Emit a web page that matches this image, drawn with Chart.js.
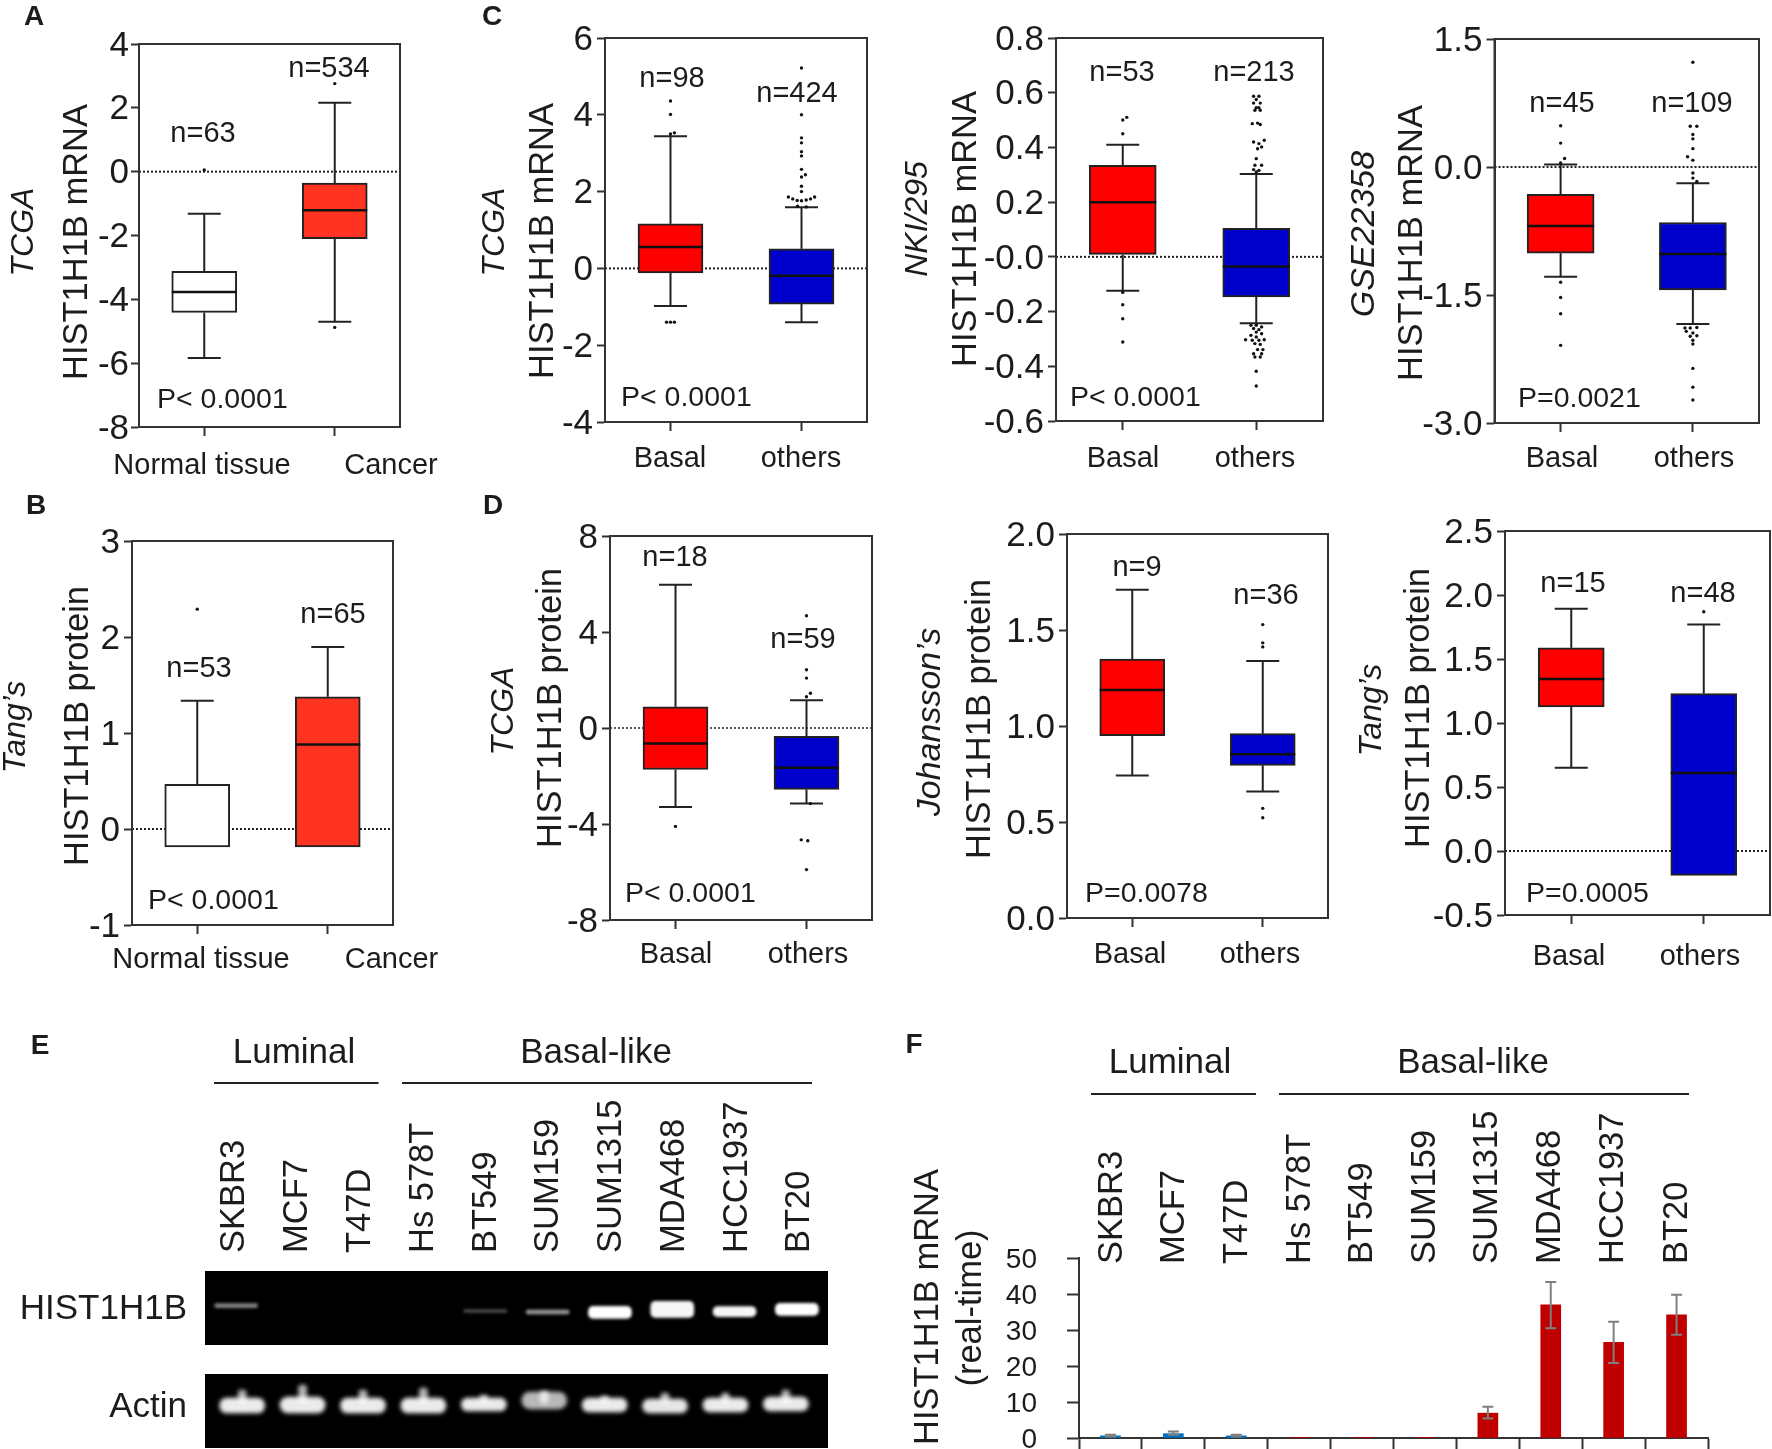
<!DOCTYPE html>
<html><head><meta charset="utf-8">
<style>html,body{margin:0;padding:0;background:#fff;overflow:hidden;width:1772px;height:1449px}
canvas{position:absolute;left:0;top:0}</style>
<script src="https://cdn.jsdelivr.net/npm/chart.js@4"></script>
</head><body>
<script>
// ---- values. Box stats: [low whisker, q1, median, q3, high whisker]
// Outliers: [x jitter, value]
const A_yTicks=[4,2,0,-2,-4,-6,-8];
const A_yLabels=['4','2','0','-2','-4','-6','-8'];
const A_normal=[-5.84,-4.41,-3.77,-3.12,-1.32];
const A_cancer=[-4.70,-2.10,-1.21,-0.36,2.16];
const A_normalOut=[[0,0.05]];
const A_cancerOut=[[0,2.76],[0,-4.88]];

const B_yTicks=[3,2,1,0,-1];
const B_yLabels=['3','2','1','0','-1'];
const B_normal=[-0.187,-0.187,null,0.466,1.335];
const B_cancer=[-0.187,-0.187,0.88,1.377,1.895];
const B_normalOut=[[0,2.29]];
const B_cancerOut=[];

const C1_yTicks=[6,4,2,0,-2,-4];
const C1_yLabels=['6','4','2','0','-2','-4'];
const C1_basal=[-0.98,-0.12,0.56,1.16,3.44];
const C1_others=[-1.40,-0.93,-0.19,0.51,1.59];
const C1_basalOut=[[0,4.36],[0,4.01],[0.03,3.53],[0,3.5],[-0.03,-1.4],[0,-1.4],[0.03,-1.4]];
const C1_othersOut=[[0,5.22],[0,4.0],[0,3.4],[0,3.27],[0,3.04],[0,2.93],[0,2.58],[0.03,2.44],[0,2.38],[0,2.14],[0,2.0],[-0.1,1.86],[-0.067,1.81],[-0.033,1.77],[0,1.76],[0.036,1.78],[0.069,1.81],[0.1,1.86],[-0.03,1.62],[0.036,1.6]];

const C2_yTicks=[0.8,0.6,0.4,0.2,0,-0.2,-0.4,-0.6];
const C2_yLabels=['0.8','0.6','0.4','0.2','-0.0','-0.2','-0.4','-0.6'];
const C2_basal=[-0.124,0.009,0.20,0.335,0.41];
const C2_others=[-0.243,-0.146,-0.035,0.104,0.303];
const C2_basalOut=[[0.03,0.51],[0,0.5],[0,0.45],[0,-0.13],[0,-0.175],[0,-0.226],[0,-0.311]];
const C2_othersOut=[[-0.02,0.587],[0.02,0.587],[0,0.575],[-0.02,0.562],[0.03,0.562],[0,0.545],[0.02,0.545],[-0.01,0.536],[0.03,0.536],[-0.03,0.487],[0.01,0.489],[0.03,0.484],[0.06,0.426],[-0.02,0.42],[0.02,0.414],[0.01,0.395],[0.04,0.402],[0,0.359],[-0.01,0.335],[0.04,0.335],[-0.02,0.319],[0.02,0.316],[0,0.31],[-0.04,-0.25],[0,-0.25],[0.04,-0.256],[-0.02,-0.262],[0.02,-0.266],[0,-0.275],[0.04,-0.281],[-0.04,-0.287],[0,-0.293],[-0.08,-0.303],[-0.03,-0.305],[0.02,-0.305],[0.06,-0.303],[-0.01,-0.317],[0.03,-0.32],[0.01,-0.339],[0.05,-0.339],[-0.02,-0.354],[0.04,-0.354],[-0.01,-0.366],[0.03,-0.366],[0,-0.418],[0,-0.472]];

const C3_yTicks=[1.5,0,-1.5,-3];
const C3_yLabels=['1.5','0.0','-1.5','-3.0'];
const C3_basal=[-1.285,-1.01,-0.69,-0.32,0.03];
const C3_others=[-1.84,-1.44,-1.02,-0.65,-0.19];
const C3_basalOut=[[0,0.484],[0,0.28],[0.03,0.10],[0,0.047],[0,-1.35],[0,-1.53],[0,-1.72],[0,-2.09]];
const C3_othersOut=[[0,1.227],[-0.02,0.477],[0.03,0.477],[0,0.38],[0,0.33],[0,0.215],[-0.04,0.12],[0,0.08],[0,-0.07],[0,-0.13],[0.03,-0.17],[-0.06,-1.887],[-0.02,-1.887],[0.03,-1.88],[-0.05,-1.926],[0,-1.945],[-0.02,-1.984],[0.03,-1.977],[0,-2.03],[0,-2.074],[0,-2.36],[0,-2.58],[0,-2.73]];

const D1_yTicks=[8,4,0,-4,-8];
const D1_yLabels=['8','4','0','-4','-8'];
const D1_basal=[-3.29,-1.73,-0.645,0.88,5.97];
const D1_others=[-3.15,-2.56,-1.66,-0.35,1.16];
const D1_basalOut=[[0,-4.1]];
const D1_othersOut=[[0,4.68],[0,2.43],[0,2.08],[0.03,1.45],[0,1.3],[0.03,-3.15],[-0.04,-4.66],[0.01,-4.7],[0,-5.9]];

const D2_yTicks=[2,1.5,1,0.5,0];
const D2_yLabels=['2.0','1.5','1.0','0.5','0.0'];
const D2_basal=[0.742,0.95,1.188,1.348,1.71];
const D2_others=[0.659,0.795,0.853,0.96,1.339];
const D2_basalOut=[];
const D2_othersOut=[[0,1.528],[0,1.433],[0,1.412],[0,0.571],[0,0.522]];

const D3_yTicks=[2.5,2,1.5,1,0.5,0,-0.5];
const D3_yLabels=['2.5','2.0','1.5','1.0','0.5','0.0','-0.5'];
const D3_basal=[0.65,1.125,1.344,1.587,1.892];
const D3_others=[-0.19,-0.19,0.61,1.23,1.77];
const D3_basalOut=[];
const D3_othersOut=[[0,1.869]];

const cellLines=['SKBR3','MCF7','T47D','Hs 578T','BT549','SUM159','SUM1315','MDA468','HCC1937','BT20'];
// gel bands: [bottom, top] in gel height units, brightness per lane
const E_histBands=[[37.3,41.3],null,null,null,[32.5,35.5],[31,35],[26.7,38.7],[27.7,43.7],[28.3,38.3],[29.7,41.7]];
const E_histBright=[0.5,0,0,0,0.3,0.6,1,0.97,0.97,1];
const E_actinBands=[[35,50],[35,51],[35,50],[35,50],[37,50],[39,56],[36,50],[35,49],[36,50],[37,51]];
const E_actinBright=[0.92,0.92,0.92,0.92,0.92,0.72,0.92,0.9,0.92,0.92];
const E_actinPeaks=[[45,58],[45,63],[45,58],[45,60],[45,53],[45,57],[45,52],[45,55],[45,55],[45,58]];

const F_yTicks=[0,10,20,30,40,50];
const F_values=[0.6,1.2,0.6,0.1,0.1,0.1,6.9,37,26.6,34.2];
const F_errLow=[0.4,0.9,0.4,null,null,null,5.4,30.5,20.8,28.7];
const F_errHigh=[0.9,1.8,0.9,null,null,null,8.7,43.3,32.3,39.8];

// ---- drawing
const FONT='"Liberation Sans", Arial, sans-serif', INK='#1c1c1c';
const W=1900,H=1540,Y_W=110,X_H=60,TXT=29;
Chart.defaults.font.family=FONT;
Chart.defaults.color=INK;

function makeCanvas(){const c=document.createElement('canvas');c.width=W;c.height=H;c.style.width=W+'px';c.style.height=H+'px';document.body.appendChild(c);return c.getContext('2d');}

const notesPlugin={id:'notes',afterDraw(chart,_,o){
  const ctx=chart.ctx;
  ctx.save();ctx.fillStyle=INK;
  (o.rules||[]).forEach(r=>{ctx.strokeStyle='#222';ctx.lineWidth=2;ctx.beginPath();ctx.moveTo(r[0],r[2]);ctx.lineTo(r[1],r[2]);ctx.stroke();});
  (o.items||[]).forEach(n=>{
    const s=Object.assign({size:TXT,align:'center'},n[3]||{});
    ctx.save();ctx.translate(n[1],n[2]);
    if(s.rot)ctx.rotate(-Math.PI/2);
    ctx.font=(s.italic?'italic ':'')+(s.bold?'bold ':'')+s.size+'px '+FONT;
    ctx.textAlign=s.align;ctx.textBaseline='middle';
    ctx.fillText(n[0],0,2);ctx.restore();
  });
  ctx.restore();
}};
const framePlugin={id:'frame',afterDatasetsDraw(chart){
  const a=chart.chartArea,ctx=chart.ctx;ctx.save();ctx.strokeStyle='#333';ctx.lineWidth=2;
  ctx.strokeRect(a.left,a.top,a.right-a.left,a.bottom-a.top);ctx.restore();
}};

const ROT={size:34.5,rot:true}, ITAL={size:32,rot:true,italic:true}, LET={size:28,bold:true}, LEFT={align:'left',size:28.5};

function boxPanel(p){
  const [l,t,r,b]=p.rect, unit=(r-l)/2;
  const ds=[];
  const stats=p.stats;
  if(p.zero) ds.push({type:'line',data:[{x:0.5,y:0},{x:2.5,y:0}],borderColor:'#222',borderWidth:p.zeroW||2,borderDash:[2,2],pointRadius:0,order:5});
  stats.forEach((s,i)=>{
    [[s[3],s[4]],[s[1],s[0]]].forEach(w=>{
      if(w[0]===w[1])return;
      ds.push({type:'line',data:[{x:i+1,y:w[0]},{x:i+1,y:w[1]}],borderColor:'#222',borderWidth:2,
        pointRadius:[0,16.5],pointStyle:'line',pointBorderColor:'#222',pointBorderWidth:2,order:4});
    });
  });
  ds.push({type:'bar',data:stats.map((s,i)=>({x:i+1,y:[s[1],s[3]]})),backgroundColor:p.fills,borderColor:'#222',borderWidth:2,borderSkipped:false,barThickness:p.boxW||65,order:3});
  const med=stats.map((s,i)=>({x:i+1,y:s[2]})).filter(m=>m.y!==null);
  ds.push({type:'scatter',data:med,pointStyle:'line',pointRadius:(p.boxW||65)/2,pointBorderColor:'#111',pointBorderWidth:2.5,order:2});
  const pts=[];p.outliers.forEach((o,i)=>o.forEach(q=>pts.push({x:i+1+q[0],y:q[1]})));
  ds.push({type:'scatter',data:pts,pointStyle:'circle',pointRadius:1.7,pointBackgroundColor:'#111',pointBorderWidth:0,order:1});

  const marks=[{value:1,label:''},{value:2,label:''}];
  const labelTicks=p.xLabels.map(q=>({value:0.5+(q[1]-l)/unit,label:q[0]}));
  const xt=marks.concat(labelTicks).sort((u,v)=>u.value-v.value);
  const revLabels=p.yLabels.slice().reverse();
  new Chart(makeCanvas(),{type:'bar',data:{datasets:ds},plugins:[framePlugin,notesPlugin],options:{
    responsive:false,animation:false,devicePixelRatio:1,
    layout:{padding:{left:l-Y_W,top:t,right:W-r,bottom:H-b-X_H}},
    plugins:{legend:{display:false},tooltip:{enabled:false},notes:{items:p.notes}},
    scales:{
      x:{type:'linear',min:0.5,max:2.5,offset:false,
        afterBuildTicks:s=>{s.ticks=xt.map(k=>({value:k.value}));},
        afterFit:s=>{s.height=X_H;},
        grid:{offset:false,drawOnChartArea:false,tickLength:9,tickWidth:2,
          tickColor:c=>(c.tick&&xt[c.index]&&xt[c.index].label==='')?'#333':'rgba(0,0,0,0)'},
        border:{display:true,width:2,color:'#333'},
        ticks:{autoSkip:false,maxRotation:0,minRotation:0,font:{size:TXT},color:INK,
          padding:Math.max(0,p.labelY-b-9-17.4+2),
          callback:(v,i)=>xt[i]?xt[i].label:''}},
      y:{type:'linear',min:p.yTicks[p.yTicks.length-1],max:p.yTicks[0],
        afterBuildTicks:s=>{s.ticks=p.yTicks.map(v=>({value:v})).reverse();},
        afterFit:s=>{s.width=Y_W;},
        grid:{drawOnChartArea:false,tickLength:8,tickWidth:2,tickColor:'#333'},
        border:{display:true,width:2,color:'#333'},
        ticks:{autoSkip:false,font:{size:35},color:INK,padding:p.tickPad||4,labelOffset:2,
          callback:(v,i)=>revLabels[i]}}
    }}});
}

const RED='#ff0000',RED2='#ff3322',BLUE='#0000cc';
boxPanel({rect:[139,44,400,427],yTicks:A_yTicks,yLabels:A_yLabels,stats:[A_normal,A_cancer],outliers:[A_normalOut,A_cancerOut],fills:['#ffffff',RED2],zero:true,tickPad:2,
  xLabels:[['Normal tissue',202],['Cancer',391]],labelY:464,
  notes:[['A',34,15,LET],['TCGA',22,232,ITAL],['HIST1H1B mRNA',75,242,ROT],['n=63',203,132],['n=534',329,67],['P< 0.0001',157,398,LEFT]]});
boxPanel({rect:[132,541,393,925],yTicks:B_yTicks,yLabels:B_yLabels,stats:[B_normal,B_cancer],outliers:[B_normalOut,B_cancerOut],fills:['#ffffff',RED2],zero:true,
  xLabels:[['Normal tissue',201],['Cancer',391.5]],labelY:958,
  notes:[['B',36,504,LET],['Tang\u2019s',14,727,ITAL],['HIST1H1B protein',76,726,ROT],['n=53',199,667],['n=65',333,613],['P< 0.0001',148,899,LEFT]]});
boxPanel({rect:[605,38,867,422],yTicks:C1_yTicks,yLabels:C1_yLabels,stats:[C1_basal,C1_others],outliers:[C1_basalOut,C1_othersOut],fills:[RED,BLUE],zero:true,
  xLabels:[['Basal',670],['others',801]],labelY:457,
  notes:[['C',492,15,LET],['TCGA',493,232,ITAL],['HIST1H1B mRNA',541,241,ROT],['n=98',672,77],['n=424',797,92],['P< 0.0001',621,396,LEFT]]});
boxPanel({rect:[1056,38,1323,421],yTicks:C2_yTicks,yLabels:C2_yLabels,stats:[C2_basal,C2_others],outliers:[C2_basalOut,C2_othersOut],fills:[RED,BLUE],zero:true,boxW:67,
  xLabels:[['Basal',1123],['others',1255]],labelY:457,
  notes:[['NKI/295',916,219,ITAL],['HIST1H1B mRNA',964,229,ROT],['n=53',1122,71],['n=213',1254,71],['P< 0.0001',1070,396,LEFT]]});
boxPanel({rect:[1494.5,39,1759,423],yTicks:C3_yTicks,yLabels:C3_yLabels,stats:[C3_basal,C3_others],outliers:[C3_basalOut,C3_othersOut],fills:[RED,BLUE],zero:true,boxW:67,
  xLabels:[['Basal',1562],['others',1694]],labelY:457,
  notes:[['GSE22358',1363,234,{size:34,rot:true,italic:true}],['HIST1H1B mRNA',1410,243,ROT],['n=45',1562,102],['n=109',1692,102],['P=0.0021',1518,397,LEFT]]});
boxPanel({rect:[610,536,872,920],yTicks:D1_yTicks,yLabels:D1_yLabels,stats:[D1_basal,D1_others],outliers:[D1_basalOut,D1_othersOut],fills:[RED,BLUE],zero:true,zeroW:1.5,
  xLabels:[['Basal',676],['others',808]],labelY:953,
  notes:[['D',493,504,LET],['TCGA',502,711,ITAL],['HIST1H1B protein',549,708,ROT],['n=18',675,556],['n=59',803,638],['P< 0.0001',625,892,LEFT]]});
boxPanel({rect:[1067,534,1328,918],yTicks:D2_yTicks,yLabels:D2_yLabels,stats:[D2_basal,D2_others],outliers:[D2_basalOut,D2_othersOut],fills:[RED,BLUE],zero:false,
  xLabels:[['Basal',1130],['others',1260]],labelY:953,
  notes:[['Johansson\u2019s',929,722,{size:34,rot:true,italic:true}],['HIST1H1B protein',978,719,ROT],['n=9',1137,566],['n=36',1266,594],['P=0.0078',1085,892,LEFT]]});
boxPanel({rect:[1505,531,1770,915],yTicks:D3_yTicks,yLabels:D3_yLabels,stats:[D3_basal,D3_others],outliers:[D3_basalOut,D3_othersOut],fills:[RED,BLUE],zero:true,boxW:66,
  xLabels:[['Basal',1569],['others',1700]],labelY:955,
  notes:[['Tang\u2019s',1370,710,ITAL],['HIST1H1B protein',1417,708,ROT],['n=15',1573,582],['n=48',1703,592],['P=0.0005',1526,892,LEFT]]});

// Gels
const gelPlugin={id:'gel',beforeDraw(chart,_,o){const g=o.rect;if(!g)return;chart.ctx.save();chart.ctx.fillStyle='#000';chart.ctx.fillRect(g[0],g[1],g[2]-g[0],g[3]-g[1]);chart.ctx.restore();},
  beforeDatasetsDraw(chart,_,o){chart.ctx.save();chart.ctx.filter='blur('+(o.blur||1.5)+'px)';},
  afterDatasetsDraw(chart){chart.ctx.restore();}};
function gel(p){
  const ds=p.sets;
  new Chart(makeCanvas(),{type:'bar',data:{labels:cellLines,datasets:ds},plugins:[gelPlugin,notesPlugin],options:{
    responsive:false,animation:false,devicePixelRatio:1,
    layout:{padding:{left:p.area[0],top:p.area[1],right:W-p.area[2],bottom:H-p.area[3]}},
    plugins:{legend:{display:false},tooltip:{enabled:false},gel:{rect:p.rect,blur:p.blur},notes:{items:p.notes,rules:p.rules}},
    scales:{x:{display:false},y:{display:false,min:0,max:74}}}});
}
const white=a=>a.map(v=>'rgba(255,255,255,'+v+')');
const rotLabel=(xs,y)=>cellLines.map((c,i)=>[c,xs[i],y,{size:34.5,rot:true,align:'left'}]);
gel({rect:[205,1271,828,1345],area:[205,1271,828,1345],blur:1.5,
  sets:[{data:E_histBands,backgroundColor:white(E_histBright),barThickness:43,borderRadius:5,borderSkipped:false,grouped:false}],
  rules:[[214,378.5,1083],[402,812,1083]],
  notes:[['E',40,1044,LET],['Luminal',294,1051,{size:35}],['Basal-like',596,1051,{size:35}],
    ...rotLabel([232,295.5,358,421,484,546,609,672,735,797],1253),
    ['HIST1H1B',187,1307,{size:35,align:'right'}]]});
gel({rect:[205,1374,828,1448],area:[212,1374,816,1448],blur:2,
  sets:[{data:E_actinBands,backgroundColor:white(E_actinBright),barThickness:45,borderRadius:9,borderSkipped:false,grouped:false},
        {data:E_actinPeaks,backgroundColor:'rgba(255,255,255,0.7)',barThickness:8,borderRadius:3,borderSkipped:false,grouped:false}],
  notes:[['Actin',187,1405,{size:35,align:'right'}]]});

// F
const fColors=F_values.map((v,i)=>i<3?'#0070c0':'#c00000');
const fErr=[];
cellLines.forEach((c,i)=>{ if(F_errLow[i]===null)return;
  fErr.push({type:'line',data:[{x:c,y:F_errLow[i]},{x:c,y:F_errHigh[i]}],borderColor:'#7f7f7f',borderWidth:2,pointStyle:'line',pointRadius:5.5,pointBorderColor:'#7f7f7f',pointBorderWidth:2,order:1});
});
new Chart(makeCanvas(),{type:'bar',data:{labels:cellLines,datasets:[
  {data:F_values,backgroundColor:fColors,barThickness:20,order:2},...fErr]},
  plugins:[notesPlugin],options:{
  responsive:false,animation:false,devicePixelRatio:1,
  layout:{padding:{left:1079-Y_W,top:1258,right:W-1708,bottom:H-1438-30}},
  plugins:{legend:{display:false},tooltip:{enabled:false},notes:{
    rules:[[1091,1256,1094],[1279,1689,1094]],
    items:[['F',914,1043,LET],['Luminal',1170,1061,{size:35}],['Basal-like',1473,1061,{size:35}],
      ['HIST1H1B mRNA',926,1307,ROT],['(real-time)',969,1308,ROT],
      ...rotLabel([1110,1172,1235,1298,1360,1423,1485,1548,1611,1675],1264)]}},
  scales:{
    x:{type:'category',afterFit:s=>{s.height=30;},grid:{offset:true,drawOnChartArea:false,tickLength:11,tickWidth:2,tickColor:'#333'},border:{display:true,width:2,color:'#333'},ticks:{display:false}},
    y:{type:'linear',min:0,max:50,afterBuildTicks:s=>{s.ticks=F_yTicks.map(v=>({value:v}));},afterFit:s=>{s.width=Y_W;},
      grid:{drawOnChartArea:false,tickLength:12,tickWidth:2,tickColor:'#333'},border:{display:true,width:2,color:'#333'},
      ticks:{autoSkip:false,font:{size:28},color:INK,padding:30,labelOffset:2}}
  }}});
</script>
</body></html>
